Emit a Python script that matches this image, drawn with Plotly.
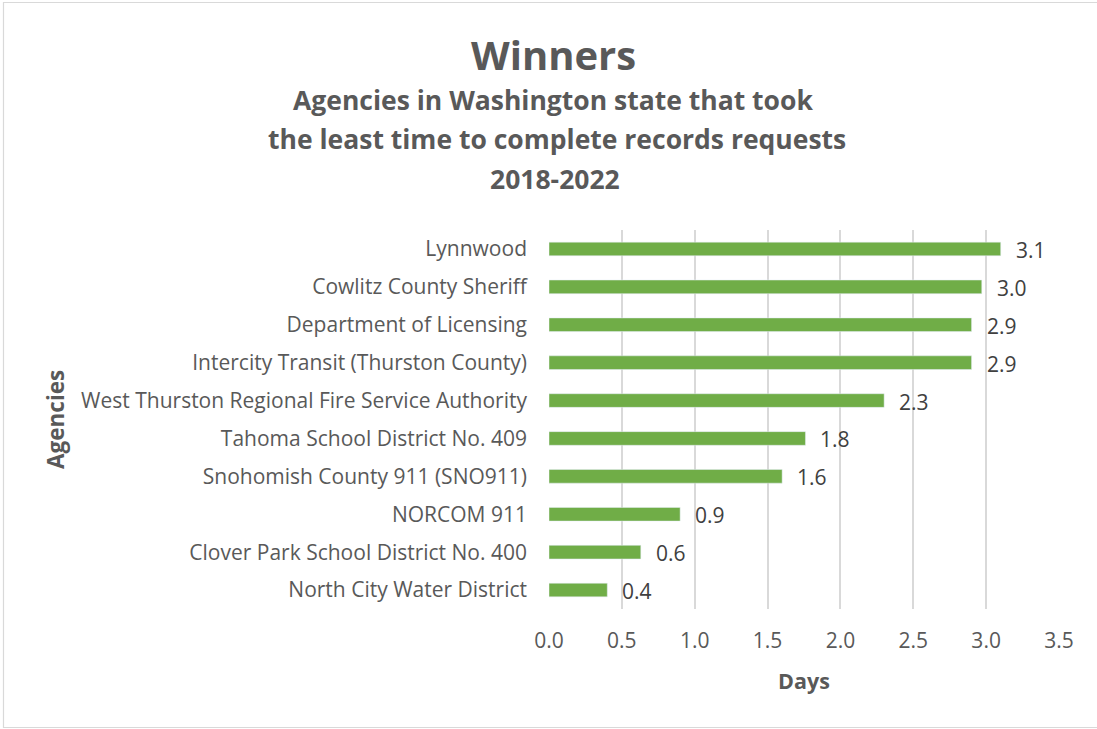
import plotly.graph_objects as go

agencies = [
    "North City Water District",
    "Clover Park School District No. 400",
    "NORCOM 911",
    "Snohomish County 911 (SNO911)",
    "Tahoma School District No. 409",
    "West Thurston Regional Fire Service Authority",
    "Intercity Transit (Thurston County)",
    "Department of Licensing",
    "Cowlitz County Sheriff",
    "Lynnwood",
]
days = [0.40, 0.63, 0.90, 1.60, 1.76, 2.30, 2.90, 2.90, 2.97, 3.10]
x_ticks = [0.0, 0.5, 1.0, 1.5, 2.0, 2.5, 3.0, 3.5]

FONT = "'Open Sans', Lato, sans-serif"
GRAY = "#595959"

W, H = 1097, 729
ML, MR, MT, MB = 549, 38, 230, 120

fig = go.Figure()
fig.add_trace(go.Bar(
    y=agencies, x=days, orientation="h",
    marker=dict(color="#70ad47"),
    width=0.36, hoverinfo="x+y",
))

annotations = []
for a, v in zip(agencies, days):
    annotations.append(dict(
        x=v, y=a, xref="x", yref="y", text=f"{v:.1f}",
        xanchor="left", yanchor="middle", xshift=13, yshift=-1, showarrow=False,
        font=dict(family=FONT, size=21, color="#404040"),
    ))

pw = W - ML - MR
ph = H - MT - MB
def px(xpix):
    return (xpix - ML) / pw
def py(ypix):
    return 1 - (ypix - MT) / ph

annotations += [
    dict(text="<b>Winners</b>", x=px(553), y=py(54), xref="paper", yref="paper",
         showarrow=False, xanchor="center", yanchor="middle",
         font=dict(family=FONT, size=40, color=GRAY)),
    dict(text="<b>Agencies in Washington state that took</b>", x=px(553), y=py(100),
         xref="paper", yref="paper", showarrow=False, xanchor="center", yanchor="middle",
         font=dict(family=FONT, size=26.5, color=GRAY)),
    dict(text="<b>the least time to complete records requests</b>", x=px(557), y=py(139),
         xref="paper", yref="paper", showarrow=False, xanchor="center", yanchor="middle",
         font=dict(family=FONT, size=26.5, color=GRAY)),
    dict(text="<b>2018-2022</b>", x=px(555), y=py(179),
         xref="paper", yref="paper", showarrow=False, xanchor="center", yanchor="middle",
         font=dict(family=FONT, size=26.5, color=GRAY)),
    dict(text="<b>Days</b>", x=px(804), y=py(680), xref="paper", yref="paper",
         showarrow=False, xanchor="center", yanchor="middle",
         font=dict(family=FONT, size=21.5, color=GRAY)),
    dict(text="<b>Agencies</b>", x=px(55), y=py(420), xref="paper", yref="paper",
         showarrow=False, xanchor="center", yanchor="middle", textangle=-90,
         font=dict(family=FONT, size=22.5, color=GRAY)),
]

fig.update_layout(
    width=W, height=H,
    margin=dict(l=ML, r=MR, t=MT, b=MB, autoexpand=False),
    paper_bgcolor="white", plot_bgcolor="white",
    showlegend=False,
    annotations=annotations,
    bargap=0.64,
    shapes=[dict(type="rect", xref="paper", yref="paper",
                 x0=px(3.5), x1=px(1100), y0=py(2.5), y1=py(727.5),
                 line=dict(color="#d9d9d9", width=1.2), layer="below")],
)
fig.update_xaxes(
    range=[0, 3.5], tickvals=x_ticks, ticktext=[f"{t:.1f}" for t in x_ticks],
    showgrid=True, gridcolor="#d9d9d9", gridwidth=1.5,
    zeroline=False, showline=False, ticks="",
    tickfont=dict(family=FONT, size=21, color=GRAY),
    ticklabelstandoff=17,
)
fig.update_yaxes(
    categoryorder="array", categoryarray=agencies,
    showgrid=False, zeroline=False, showline=False, ticks="",
    tickfont=dict(family=FONT, size=21, color=GRAY),
    ticklabelstandoff=21,
    range=[-0.5, 9.5],
)

fig.write_html(
    "out.html",
    config={"displayModeBar": False},
    post_script="document.body.style.margin='0';document.body.style.overflow='hidden';",
)
